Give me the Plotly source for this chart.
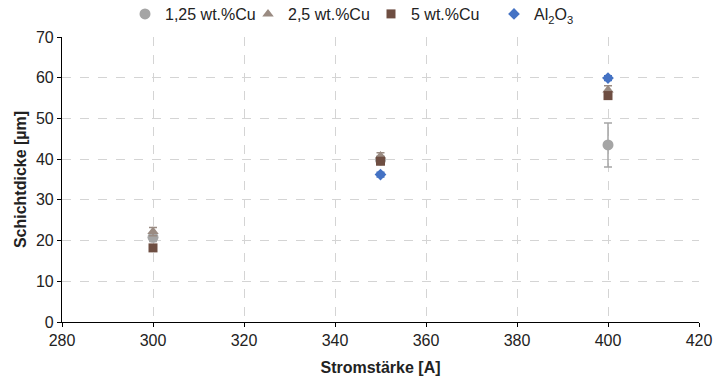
import plotly.graph_objects as go

strom = [300, 350, 400]
cu125 = [20.8, 39.8, 43.5]
cu125_err = [1.0, 1.0, 5.4]
cu25 = [22.2, 40.8, 57.0]
cu25_err = [1.0, 0.8, 1.0]
cu5 = [18.2, 39.5, 55.6]
cu5_err = [0.6, 0.8, 0.8]
al2o3 = [None, 36.2, 59.9]
al2o3_err = [0, 0.6, 0.6]

names = ["1,25 wt.%Cu", "2,5 wt.%Cu", "5 wt.%Cu", "Al<sub>2</sub>O<sub>3</sub>"]
colors = ["#A5A5A5", "#9A8B82", "#6E4E42", "#4472C4"]
symbols = ["circle", "triangle-up", "square", "diamond"]
sizes = [11, 10, 9, 9]

fig = go.Figure()
for name, ys, err, c, s, sz in zip(names, [cu125, cu25, cu5, al2o3],
                                   [cu125_err, cu25_err, cu5_err, al2o3_err],
                                   colors, symbols, sizes):
    fig.add_trace(go.Scatter(
        x=strom, y=ys, name=name, mode="markers",
        marker=dict(symbol=s, color=c, size=sz),
        error_y=dict(type="data", array=err, visible=True, color=c, thickness=1.5, width=4),
    ))

grid = dict(showgrid=True, gridcolor="#D4D4D4", griddash="dash", gridwidth=1,
            showline=True, linecolor="black", linewidth=1.2,
            ticks="outside", ticklen=4, tickcolor="black",
            tickfont=dict(size=16, color="#222"), zeroline=False, automargin=False)

fig.update_layout(
    width=715, height=384,
    margin=dict(l=62, r=16, t=37, b=62),
    paper_bgcolor="white", plot_bgcolor="white",
    font=dict(family="Liberation Sans, Arial, sans-serif", color="#222"),
    showlegend=True,
    legend=dict(orientation="h", x=125 / 715, xanchor="left", xref="container",
                y=1 - 14 / 384, yanchor="middle", yref="container",
                font=dict(size=16), itemwidth=30, traceorder="normal",
                entrywidth=78, entrywidthmode="pixels"),
    xaxis=dict(range=[280, 420], dtick=20,
               title=dict(text="<b>Stromstärke [A]</b>", font=dict(size=16), standoff=13), **grid),
    yaxis=dict(range=[0, 70], dtick=10,
               title=dict(text="<b>Schichtdicke [µm]</b>", font=dict(size=16), standoff=5), **grid),
)

fig.write_html("out.html", config={"displayModeBar": False},
               post_script="document.body.style.margin='0';")
